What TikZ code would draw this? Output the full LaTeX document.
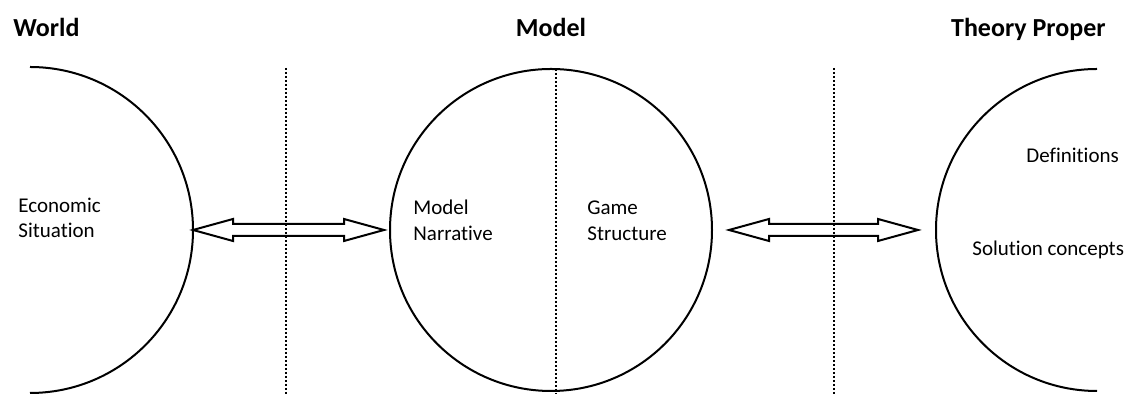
\documentclass[tikz,border=0pt]{standalone}
\usepackage{fontspec}
\setmainfont[Ligatures = NoCommon]{Carlito}
\usetikzlibrary{calc}
\tikzset{
    ring/.style = {draw, line width = 1pt},
    divider/.style = {line width = 1pt, dash pattern = on 1pt off 1pt},
    fat/.style = {draw, line width = 1pt, line join = miter},
    words/.style = {font = \fontsize{10.5}{12.8}\selectfont, align = left, anchor = west, inner sep = 0pt},
    heading/.style = {font = \fontsize{13}{15}\selectfont\bfseries, inner sep = 0pt}
}
% hollow arrow with a head at each end
\newcommand\twoway[2]{%
    \draw[fat] (#1) -- ($(#1)+(40,11)$) -- ($(#1)+(40,6)$) -- ($(#2)+(-40,6)$) -- ($(#2)+(-40,11)$) -- (#2)
        -- ($(#2)+(-40,-11)$) -- ($(#2)+(-40,-6)$) -- ($(#1)+(40,-6)$) -- ($(#1)+(40,-11)$) -- cycle;}

\begin{document}
\begin{tikzpicture}[x = 0.5pt, y = 0.5pt]
    \useasboundingbox (0,0) rectangle (1126,394);

    \node[heading, anchor = base west] (worldtitle) at (13,357) {World};
    \node[heading, anchor = base] (modeltitle) at (551,357) {Model};
    \node[heading, anchor = base east] (theorytitle) at (1106,357) {Theory Proper};

    \draw[ring] (30,327) arc[start angle = 90, end angle = -90, radius = 163];
    \coordinate (world) at (193,164);
    \node[ring, circle, minimum size = 161pt, inner sep = 0pt] (model) at (551,164) {};
    \draw[ring] (1097,325) arc[start angle = 90, end angle = 270, radius = 161];
    \coordinate (theory) at (936,164);

    \draw[divider] (286,326) -- (286,0);
    \draw[divider] (556,325) -- (556,0);
    \draw[divider] (834,326) -- (834,0);

    \node[words] (situation) at (18,176) {Economic\\Situation};
    \node[words] (narrative) at (413,173.5) {Model\\Narrative};
    \node[words] (structure) at (587,173.5) {Game\\Structure};
    \node[words] (definitions) at (1026,239) {Definitions};
    \node[words] (concepts) at (972,144) {Solution concepts};

    \twoway{world}{[xshift = -2.5pt]model.west}
    \twoway{[xshift = 8pt]model.east}{[xshift = -9pt]theory}
\end{tikzpicture}
\end{document}
